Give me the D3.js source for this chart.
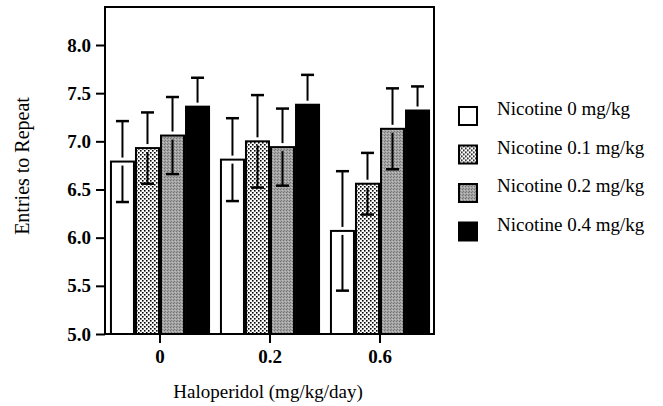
<!DOCTYPE html>
<html>
<head>
<meta charset="utf-8">
<script src="https://cdn.jsdelivr.net/npm/d3@7"></script>
<style>
  body { margin: 0; background: #fff; }
</style>
</head>
<body>
<div id="grafico"></div>
<script>
// haloperidol doses (x categories)
const doses = ["0", "0.2", "0.6"];
const seriesNames = ["Nicotine 0 mg/kg", "Nicotine 0.1 mg/kg", "Nicotine 0.2 mg/kg", "Nicotine 0.4 mg/kg"];
// means per nicotine dose, one value per haloperidol dose
const nic0 = [6.79, 6.81, 6.07];
const nic01 = [6.93, 7.00, 6.56];
const nic02 = [7.06, 6.94, 7.13];
const nic04 = [7.36, 7.38, 7.32];
// error bar half-lengths
const err0 = [0.42, 0.43, 0.62];
const err01 = [0.37, 0.48, 0.32];
const err02 = [0.40, 0.40, 0.42];
const err04 = [0.30, 0.31, 0.25];
const yTicks = [5.0, 5.5, 6.0, 6.5, 7.0, 7.5, 8.0];

const means = [nic0, nic01, nic02, nic04];
const errs = [err0, err01, err02, err04];

const width = 663, height = 406;
const plotLeft = 105, plotRight = 434, plotTop = 7, plotBottom = 334;
const serif = '"Liberation Serif"';

const svg = d3.select("#grafico").append("svg")
    .attr("width", width)
    .attr("height", height);

const defs = svg.append("defs");
// dotted fill
const dots = defs.append("pattern").attr("id", "dots")
    .attr("patternUnits", "userSpaceOnUse").attr("width", 4).attr("height", 4);
dots.append("rect").attr("width", 4).attr("height", 4).attr("fill", "#fff");
dots.append("rect").attr("x", 0).attr("y", 0).attr("width", 1.6).attr("height", 1.6).attr("fill", "#000");
dots.append("rect").attr("x", 2).attr("y", 2).attr("width", 1.6).attr("height", 1.6).attr("fill", "#000");
// gray stipple
const grain = defs.append("pattern").attr("id", "grain")
    .attr("patternUnits", "userSpaceOnUse").attr("width", 3).attr("height", 3);
grain.append("rect").attr("width", 3).attr("height", 3).attr("fill", "#a4a4a4");
grain.append("rect").attr("x", 0).attr("y", 0).attr("width", 1).attr("height", 1).attr("fill", "#6e6e6e");
grain.append("rect").attr("x", 2).attr("y", 1).attr("width", 1).attr("height", 1).attr("fill", "#c4c4c4");
grain.append("rect").attr("x", 1).attr("y", 2).attr("width", 1).attr("height", 1).attr("fill", "#7a7a7a");

const fills = ["#fff", "url(#dots)", "url(#grain)", "#000"];

const x0 = d3.scaleBand()
    .domain(doses)
    .range([plotLeft, plotRight + 1])
    .paddingInner(0.09)
    .paddingOuter(0.045);

const x1 = d3.scaleBand()
    .domain(d3.range(seriesNames.length))
    .range([0, x0.bandwidth()]);

const yScale = d3.scaleLinear()
    .domain([5, 8])
    .range([plotBottom, 45]);

// bars
const groups = svg.append("g").selectAll("g")
    .data(doses)
    .enter().append("g")
    .attr("transform", d => `translate(${x0(d)},0)`);

groups.each(function (dose, gi) {
    const g = d3.select(this);
    means.forEach((s, si) => {
        const m = s[gi];
        const e = errs[si][gi];
        const bx = x1(si);
        const bw = x1.bandwidth();
        g.append("rect")
            .attr("x", bx + 1)
            .attr("y", yScale(m))
            .attr("width", bw - 2)
            .attr("height", yScale(5) - yScale(m))
            .attr("fill", fills[si])
            .attr("stroke", "#000")
            .attr("stroke-width", 2);
        const cx = bx + bw / 2;
        const gap = 4;
        // upper whisker
        g.append("line")
            .attr("x1", cx).attr("x2", cx)
            .attr("y1", yScale(m) - gap).attr("y2", yScale(m + e))
            .attr("stroke", "#000").attr("stroke-width", 2);
        g.append("line")
            .attr("x1", cx - 6.5).attr("x2", cx + 6.5)
            .attr("y1", yScale(m + e)).attr("y2", yScale(m + e))
            .attr("stroke", "#000").attr("stroke-width", 2.5);
        // lower whisker
        g.append("line")
            .attr("x1", cx).attr("x2", cx)
            .attr("y1", yScale(m) + gap).attr("y2", yScale(m - e))
            .attr("stroke", "#000").attr("stroke-width", 2);
        g.append("line")
            .attr("x1", cx - 6.5).attr("x2", cx + 6.5)
            .attr("y1", yScale(m - e)).attr("y2", yScale(m - e))
            .attr("stroke", "#000").attr("stroke-width", 2.5);
    });
});

// frame
svg.append("rect")
    .attr("x", plotLeft).attr("y", plotTop)
    .attr("width", plotRight - plotLeft).attr("height", plotBottom - plotTop)
    .attr("fill", "none").attr("stroke", "#000").attr("stroke-width", 2);

// y axis
const yAxis = d3.axisLeft(yScale)
    .tickValues(yTicks)
    .tickFormat(d3.format(".1f"))
    .tickSize(9)
    .tickPadding(5);
const gy = svg.append("g")
    .attr("transform", `translate(${plotLeft}, 0)`)
    .call(yAxis);
gy.select(".domain").remove();
gy.selectAll(".tick line").attr("stroke-width", 2);
gy.selectAll(".tick text")
    .attr("font-family", serif)
    .style("font-family", serif)
    .style("font-size", "19px").style("font-weight", "bold");

// x axis
const xAxis = d3.axisBottom(x0).tickSize(9).tickPadding(7);
const gx = svg.append("g")
    .attr("transform", `translate(0, ${plotBottom})`)
    .call(xAxis);
gx.select(".domain").remove();
gx.selectAll(".tick line").attr("stroke-width", 2);
gx.selectAll(".tick text")
    .attr("font-family", serif)
    .style("font-family", serif)
    .style("font-size", "19px").style("font-weight", "bold");

// axis titles
svg.append("text")
    .attr("x", 268).attr("y", 398)
    .attr("text-anchor", "middle")
    .style("font-family", serif)
    .style("font-size", "19px")
    .text("Haloperidol (mg/kg/day)");

svg.append("text")
    .attr("transform", "translate(29, 166) rotate(-90)")
    .attr("text-anchor", "middle")
    .style("font-family", serif)
    .style("font-size", "20px")
    .text("Entries to Repeat");

// legend
const legend = svg.append("g").selectAll("g")
    .data(seriesNames)
    .enter().append("g")
    .attr("transform", (d, i) => `translate(459, ${115 + i * 38.5})`);
legend.append("rect")
    .attr("y", -8)
    .attr("width", 18).attr("height", 18)
    .attr("fill", (d, i) => fills[i])
    .attr("stroke", "#000").attr("stroke-width", 2);
legend.append("text")
    .attr("x", 38).attr("y", 0)
    .style("font-family", serif)
    .style("font-size", "19px")
    .text(d => d);
</script>
</body>
</html>
